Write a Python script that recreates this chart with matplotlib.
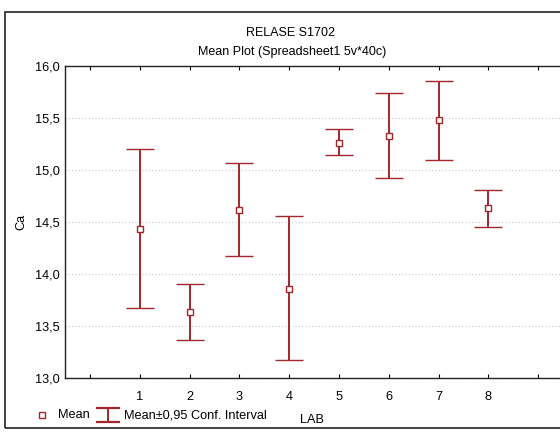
import matplotlib
matplotlib.use("Agg")
import matplotlib.pyplot as plt
from matplotlib.lines import Line2D
from matplotlib.patches import Rectangle
from matplotlib.ticker import FuncFormatter

plt.rcParams['font.family'] = ['Liberation Sans', 'DejaVu Sans']

# data
labs = [1, 2, 3, 4, 5, 6, 7, 8]
means = [14.43, 13.63, 14.62, 13.86, 15.26, 15.33, 15.48, 14.63]
ci_low = [13.67, 13.37, 14.17, 13.17, 15.14, 14.92, 15.10, 14.45]
ci_high = [15.20, 13.90, 15.07, 14.56, 15.39, 15.74, 15.86, 14.81]

title = "RELASE S1702"
subtitle = "Mean Plot (Spreadsheet1 5v*40c)"
red = "#a3262c"

W, H = 560, 432
fig = plt.figure(figsize=(W / 100, H / 100), dpi=100)
fig.patch.set_facecolor("white")

# axes in pixel terms: left 65, top 66, bottom 378, right just off the picture
l, t, b, r = 65, 66, 378, 563
ax = fig.add_axes([l / W, 1 - b / H, (r - l) / W, (b - t) / H])

yerr = [[m - lo for m, lo in zip(means, ci_low)],
        [hi - m for m, hi in zip(means, ci_high)]]
ax.errorbar(labs, means, yerr=yerr, fmt="s", color=red, ecolor=red,
            elinewidth=1.4, capsize=10, capthick=1.6,
            markersize=4.5, markerfacecolor="white", markeredgecolor=red,
            markeredgewidth=1.0, zorder=3)

ax.set_xlim(-0.5, 9.5)
ax.set_ylim(13.0, 16.0)
ax.set_xticks(range(0, 10))
ax.set_xticklabels([""] + [str(v) for v in labs] + [""])
ax.set_yticks([13.0, 13.5, 14.0, 14.5, 15.0, 15.5, 16.0])
ax.yaxis.set_major_formatter(FuncFormatter(lambda v, p: f"{v:.1f}".replace(".", ",")))
ax.tick_params(axis="x", direction="in", length=3, width=0.8, pad=9,
               labelsize=9.2, top=True)
ax.tick_params(axis="y", length=0, pad=4, labelsize=9.2)
ax.grid(axis="y", color="#c8c8c8", linestyle=(0, (1, 2)), linewidth=0.8)
ax.set_axisbelow(True)
for s in ax.spines.values():
    s.set_linewidth(1.0)
    s.set_color("#222222")

fig.text(291 / W, 1 - 33 / H, title, ha="center", va="center", fontsize=9)
fig.text(292 / W, 1 - 52 / H, subtitle, ha="center", va="center", fontsize=9)
fig.text(21 / W, 1 - 222 / H, "Ca", ha="center", va="center",
         rotation=90, fontsize=9.2)
fig.text(300 / W, 1 - 420 / H, "LAB", ha="left", va="center", fontsize=9.2)

# legend drawn by hand, like the Statistica footer
fig.add_artist(Line2D([42 / W], [1 - 415 / H], marker="s", markersize=4,
                      markerfacecolor="white", markeredgecolor=red,
                      markeredgewidth=1.0, linestyle="none"))
fig.text(58 / W, 1 - 415 / H, "Mean", ha="left", va="center", fontsize=9.2)
fig.add_artist(Line2D([97 / W, 119 / W], [1 - 408 / H] * 2, color=red, lw=1.6))
fig.add_artist(Line2D([97 / W, 119 / W], [1 - 422 / H] * 2, color=red, lw=1.6))
fig.add_artist(Line2D([108 / W] * 2, [1 - 408 / H, 1 - 422 / H], color=red, lw=1.4))
fig.text(124 / W, 1 - 415 / H, "Mean\u00b10,95 Conf. Interval", ha="left",
         va="center", fontsize=9.2)

# window frame around the graph
fig.add_artist(Rectangle((5 / W, 1 - 428 / H), 600 / W, (428 - 12) / H,
                         fill=False, edgecolor="#222222", linewidth=1.2,
                         transform=fig.transFigure))

fig.savefig("out.png", dpi=100)
